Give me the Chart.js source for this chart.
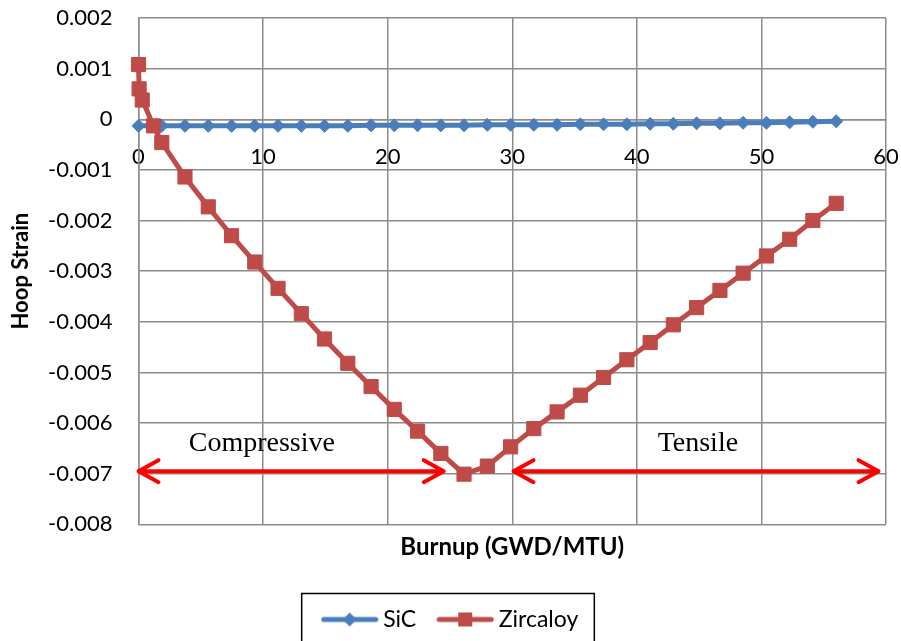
<!DOCTYPE html>
<html>
<head>
<meta charset="utf-8">
<title>Hoop Strain vs Burnup</title>
<script src="https://cdn.jsdelivr.net/npm/chart.js@4.4.0/dist/chart.umd.min.js"></script>
<style>
  html, body { margin: 0; padding: 0; background: #fff; }
  #wrap { width: 901px; height: 641px; }
</style>
</head>
<body>
<div id="wrap"><canvas id="chart" width="901" height="641"></canvas></div>
<script>
// Values: burnup in GWD/MTU, hoop strain (dimensionless)
const sicBurnup = [0, 1.87, 3.73, 5.6, 7.47, 9.33, 11.2, 13.07, 14.93, 16.8, 18.67, 20.53,
  22.4, 24.27, 26.13, 28.0, 29.87, 31.73, 33.6, 35.47, 37.33, 39.2, 41.07, 42.93, 44.8,
  46.67, 48.53, 50.4, 52.27, 54.13, 56.0];
const sicStrain = [-0.00013, -0.00013, -0.00013, -0.00013, -0.00013, -0.00013, -0.00013,
  -0.00013, -0.00013, -0.00013, -0.00012, -0.00012, -0.00012, -0.00012, -0.00012, -0.00011,
  -0.00011, -0.00011, -0.00011, -0.00010, -0.00010, -0.00010, -0.00009, -0.00009, -0.00008,
  -0.00008, -0.00007, -0.00007, -0.00006, -0.00005, -0.00004];

const zircBurnup = [0, 0.05, 0.3, 1.2, 1.87, 3.73, 5.6, 7.47, 9.33, 11.2, 13.07, 14.93, 16.8,
  18.67, 20.53, 22.4, 24.27, 26.13, 28.0, 29.87, 31.73, 33.6, 35.47, 37.33, 39.2, 41.07,
  42.93, 44.8, 46.67, 48.53, 50.4, 52.27, 54.13, 56.0];
const zircStrain = [0.00108, 0.0006, 0.00038, -0.00013, -0.00046, -0.00114, -0.00173, -0.0023,
  -0.00282, -0.00334, -0.00384, -0.00434, -0.00482, -0.00528, -0.00573, -0.00616, -0.0066,
  -0.00701, -0.00685, -0.00647, -0.00611, -0.00578, -0.00545, -0.0051, -0.00475, -0.00441,
  -0.00406, -0.00372, -0.00338, -0.00304, -0.0027, -0.00237, -0.002, -0.00166];

const seriesNames = ['SiC', 'Zircaloy'];

// Annotated regions: arrow spans (burnup) and caption positions
const regionNames = ['Compressive', 'Tensile'];
const regionFrom = [0, 30.1];
const regionTo = [24.5, 59.4];
const regionTextX = [9.9, 44.9];
const arrowLevel = -0.00695;
const textLevel = -0.00655;

const BLUE = '#4A7EBB';
const RED = '#BE4B48';
const GRID = '#8C8C8C';

Chart.defaults.font.family = 'Lato';
Chart.defaults.color = '#000';

// legend marker: line with the series marker in the middle
function legendIcon(color, style) {
  const c = document.createElement('canvas');
  c.width = 58;
  c.height = 18;
  const ctx = c.getContext('2d');
  ctx.strokeStyle = color;
  ctx.fillStyle = color;
  ctx.lineWidth = 5;
  ctx.lineCap = 'round';
  ctx.beginPath();
  ctx.moveTo(3, 9);
  ctx.lineTo(55, 9);
  ctx.stroke();
  if (style === 'diamond') {
    ctx.beginPath();
    ctx.moveTo(29, 2);
    ctx.lineTo(36, 9);
    ctx.lineTo(29, 16);
    ctx.lineTo(22, 9);
    ctx.closePath();
    ctx.fill();
  } else {
    ctx.fillRect(22, 2, 14, 14);
  }
  return c;
}
const legendIcons = [legendIcon(BLUE, 'diamond'), legendIcon(RED, 'square')];

// red double arrows with captions
const regionArrows = {
  id: 'regionArrows',
  afterDatasetsDraw(chart) {
    const { ctx, scales: { x, y } } = chart;
    const py = y.getPixelForValue(arrowLevel);
    const ty = y.getPixelForValue(textLevel);
    ctx.save();
    regionNames.forEach((name, i) => {
      const x0 = x.getPixelForValue(regionFrom[i]);
      const x1 = x.getPixelForValue(regionTo[i]);
      ctx.strokeStyle = '#FF0000';
      ctx.lineWidth = 4;
      ctx.lineCap = 'round';
      ctx.lineJoin = 'round';
      ctx.beginPath();
      ctx.moveTo(x0, py);
      ctx.lineTo(x1, py);
      ctx.moveTo(x0 + 20, py - 11);
      ctx.lineTo(x0, py);
      ctx.lineTo(x0 + 20, py + 11);
      ctx.moveTo(x1 - 20, py - 11);
      ctx.lineTo(x1, py);
      ctx.lineTo(x1 - 20, py + 11);
      ctx.stroke();

      ctx.fillStyle = '#000';
      ctx.font = '28px "Liberation Serif"';
      ctx.textAlign = 'center';
      ctx.textBaseline = 'alphabetic';
      ctx.fillText(name, x.getPixelForValue(regionTextX[i]), ty);
    });
    ctx.restore();
  }
};

// frame around the legend, as in the spreadsheet chart
const legendFrame = {
  id: 'legendFrame',
  afterDraw(chart) {
    const boxes = chart.legend && chart.legend.legendHitBoxes;
    if (!boxes || !boxes.length) return;
    const first = boxes[0];
    const last = boxes[boxes.length - 1];
    const left = first.left - 26;
    const right = last.left + last.width + 16;
    const top = first.top + first.height / 2 - 26;
    const ctx = chart.ctx;
    ctx.save();
    ctx.strokeStyle = '#000';
    ctx.lineWidth = 1.5;
    ctx.strokeRect(left, top, right - left, chart.height + 10 - top);
    ctx.restore();
  }
};

const toPoints = (xs, ys) => xs.map((v, i) => ({ x: v, y: ys[i] }));

new Chart(document.getElementById('chart'), {
  type: 'line',
  data: {
    datasets: [
      {
        label: seriesNames[0],
        data: toPoints(sicBurnup, sicStrain),
        borderColor: BLUE,
        backgroundColor: BLUE,
        borderWidth: 5,
        pointStyle: 'rectRot',
        pointRadius: 6.5,
        pointBorderWidth: 1,
        pointBorderColor: BLUE,
        pointBackgroundColor: BLUE,
        tension: 0,
        clip: false,
        order: 1
      },
      {
        label: seriesNames[1],
        data: toPoints(zircBurnup, zircStrain),
        borderColor: RED,
        backgroundColor: RED,
        borderWidth: 5,
        pointStyle: 'rect',
        pointRadius: 10,
        pointBorderWidth: 1,
        pointBorderColor: RED,
        pointBackgroundColor: RED,
        tension: 0,
        clip: false,
        order: 0
      }
    ]
  },
  options: {
    responsive: false,
    animation: false,
    layout: { padding: { top: 18, right: 15, left: 20, bottom: 0 } },
    plugins: {
      tooltip: { enabled: false },
      legend: {
        position: 'bottom',
        labels: {
          usePointStyle: true,
          pointStyleWidth: 44,
          padding: 27,
          font: { size: 23 },
          color: '#000',
          generateLabels(chart) {
            const items = Chart.defaults.plugins.legend.labels.generateLabels(chart);
            items.forEach(item => { item.pointStyle = legendIcons[item.datasetIndex]; });
            return items.sort((a, b) => a.datasetIndex - b.datasetIndex);
          }
        }
      }
    },
    scales: {
      x: {
        type: 'linear',
        position: { y: 0 },
        min: 0,
        max: 60,
        ticks: { stepSize: 10, padding: 0, font: { size: 22 }, color: '#000' },
        grid: { color: GRID, lineWidth: 1.5, drawTicks: true, tickLength: 24.5, tickColor: 'rgba(0,0,0,0)' },
        border: { color: GRID, width: 1.5 }
      },
      x2: {
        type: 'linear',
        position: 'bottom',
        min: 0,
        max: 60,
        ticks: { display: false },
        grid: { display: false, drawTicks: false },
        border: { display: false },
        title: {
          display: true,
          text: 'Burnup (GWD/MTU)',
          font: { size: 24, weight: 'bold' },
          padding: { top: 0, bottom: 19.6 }
        },
        afterFit(scale) { scale.height = 56.7; }
      },
      y: {
        type: 'linear',
        position: 'left',
        min: -0.008,
        max: 0.002,
        ticks: {
          stepSize: 0.001,
          padding: 0,
          font: { size: 22 },
          color: '#000',
          callback: v => {
            const r = Math.round(v * 1000) / 1000;
            return r === 0 ? '0' : r.toFixed(3);
          }
        },
        grid: { color: GRID, lineWidth: 1.5, drawTicks: true, tickLength: 26, tickColor: 'rgba(0,0,0,0)' },
        border: { color: GRID, width: 1.5 },
        title: {
          display: true,
          text: 'Hoop Strain',
          font: { size: 22, weight: 'bold' },
          padding: { top: -12, bottom: 0 }
        },
        afterFit(scale) { scale.width = 118.5; }
      }
    }
  },
  plugins: [regionArrows, legendFrame]
});
</script>
</body>
</html>
